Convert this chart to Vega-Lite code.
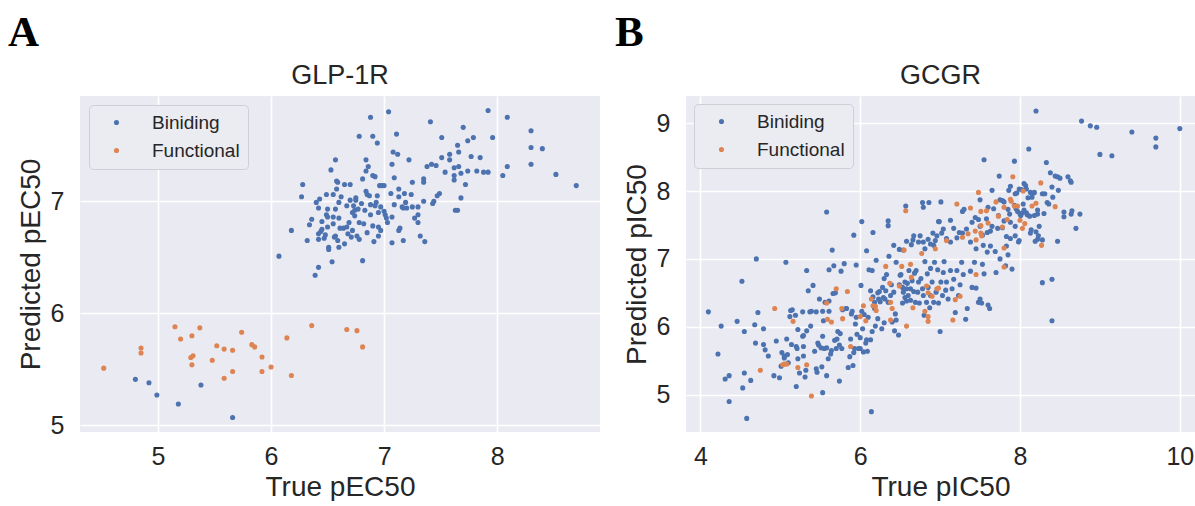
{
"$schema": "https://vega.github.io/schema/vega-lite/v6.json",
"background": "white",
"padding": {"left": 8, "top": 12, "right": 0, "bottom": 0},
"autosize": {"type": "pad"},
"datasets": {
"a": [
{"x":4.80,"y":5.41,"s":"Biniding"},{"x":4.92,"y":5.38,"s":"Biniding"},{"x":4.99,"y":5.27,"s":"Biniding"},{"x":5.18,"y":5.19,"s":"Biniding"},{"x":5.38,"y":5.36,"s":"Biniding"},{"x":5.66,"y":5.07,"s":"Biniding"},
{"x":6.07,"y":6.51,"s":"Biniding"},{"x":6.18,"y":6.74,"s":"Biniding"},{"x":6.27,"y":7.04,"s":"Biniding"},{"x":6.28,"y":7.15,"s":"Biniding"},{"x":6.32,"y":6.65,"s":"Biniding"},{"x":6.34,"y":6.79,"s":"Biniding"},{"x":6.36,"y":6.84,"s":"Biniding"},{"x":6.39,"y":6.34,"s":"Biniding"},{"x":6.42,"y":6.41,"s":"Biniding"},{"x":6.40,"y":6.99,"s":"Biniding"},{"x":6.43,"y":7.02,"s":"Biniding"},{"x":6.42,"y":6.94,"s":"Biniding"},{"x":6.42,"y":6.71,"s":"Biniding"},{"x":6.44,"y":6.73,"s":"Biniding"},{"x":6.45,"y":6.82,"s":"Biniding"},{"x":6.42,"y":6.66,"s":"Biniding"},{"x":6.45,"y":6.75,"s":"Biniding"},{"x":6.47,"y":6.67,"s":"Biniding"},{"x":6.48,"y":6.70,"s":"Biniding"},{"x":6.49,"y":7.06,"s":"Biniding"},{"x":6.49,"y":6.88,"s":"Biniding"},{"x":6.50,"y":6.86,"s":"Biniding"},{"x":6.50,"y":6.93,"s":"Biniding"},{"x":6.51,"y":6.59,"s":"Biniding"},{"x":6.51,"y":6.57,"s":"Biniding"},{"x":6.50,"y":6.77,"s":"Biniding"},{"x":6.53,"y":7.28,"s":"Biniding"},{"x":6.54,"y":6.46,"s":"Biniding"},{"x":6.55,"y":7.06,"s":"Biniding"},{"x":6.55,"y":6.86,"s":"Biniding"},{"x":6.56,"y":6.68,"s":"Biniding"},{"x":6.57,"y":6.69,"s":"Biniding"},{"x":6.57,"y":7.37,"s":"Biniding"},{"x":6.57,"y":6.93,"s":"Biniding"},{"x":6.58,"y":7.11,"s":"Biniding"},{"x":6.58,"y":7.18,"s":"Biniding"},{"x":6.59,"y":7.17,"s":"Biniding"},{"x":6.59,"y":6.65,"s":"Biniding"},{"x":6.60,"y":6.99,"s":"Biniding"},{"x":6.60,"y":6.59,"s":"Biniding"},{"x":6.61,"y":6.76,"s":"Biniding"},{"x":6.64,"y":6.76,"s":"Biniding"},{"x":6.65,"y":7.15,"s":"Biniding"},{"x":6.67,"y":6.77,"s":"Biniding"},{"x":6.67,"y":6.96,"s":"Biniding"},{"x":6.68,"y":6.71,"s":"Biniding"},{"x":6.69,"y":6.81,"s":"Biniding"},{"x":6.70,"y":7.15,"s":"Biniding"},{"x":6.70,"y":7.01,"s":"Biniding"},{"x":6.71,"y":6.68,"s":"Biniding"},{"x":6.72,"y":6.74,"s":"Biniding"},{"x":6.73,"y":6.96,"s":"Biniding"},{"x":6.74,"y":6.92,"s":"Biniding"},{"x":6.74,"y":6.87,"s":"Biniding"},{"x":6.75,"y":7.03,"s":"Biniding"},{"x":6.75,"y":7.01,"s":"Biniding"},{"x":6.76,"y":6.69,"s":"Biniding"},{"x":6.77,"y":6.93,"s":"Biniding"},{"x":6.78,"y":7.58,"s":"Biniding"},{"x":6.78,"y":6.81,"s":"Biniding"},{"x":6.81,"y":6.47,"s":"Biniding"},{"x":6.81,"y":7.20,"s":"Biniding"},{"x":6.82,"y":6.80,"s":"Biniding"},{"x":6.83,"y":6.92,"s":"Biniding"},{"x":6.84,"y":7.09,"s":"Biniding"},{"x":6.84,"y":7.27,"s":"Biniding"},{"x":6.84,"y":7.37,"s":"Biniding"},{"x":6.85,"y":7.06,"s":"Biniding"},{"x":6.85,"y":6.72,"s":"Biniding"},{"x":6.86,"y":7.31,"s":"Biniding"},{"x":6.87,"y":7.05,"s":"Biniding"},{"x":6.88,"y":7.75,"s":"Biniding"},{"x":6.88,"y":6.97,"s":"Biniding"},{"x":6.88,"y":6.88,"s":"Biniding"},{"x":6.90,"y":7.58,"s":"Biniding"},{"x":6.90,"y":7.23,"s":"Biniding"},{"x":6.90,"y":6.78,"s":"Biniding"},{"x":6.91,"y":6.64,"s":"Biniding"},{"x":6.92,"y":7.22,"s":"Biniding"},{"x":6.92,"y":6.96,"s":"Biniding"},{"x":6.93,"y":6.99,"s":"Biniding"},{"x":6.94,"y":7.52,"s":"Biniding"},{"x":6.94,"y":7.05,"s":"Biniding"},{"x":6.95,"y":6.69,"s":"Biniding"},{"x":6.95,"y":6.77,"s":"Biniding"},{"x":6.96,"y":7.14,"s":"Biniding"},{"x":6.97,"y":6.95,"s":"Biniding"},{"x":6.97,"y":6.74,"s":"Biniding"},{"x":6.98,"y":7.14,"s":"Biniding"},{"x":7.00,"y":7.14,"s":"Biniding"},{"x":7.00,"y":6.91,"s":"Biniding"},{"x":7.01,"y":6.88,"s":"Biniding"},{"x":7.02,"y":6.85,"s":"Biniding"},{"x":7.03,"y":6.81,"s":"Biniding"},{"x":7.04,"y":7.80,"s":"Biniding"},{"x":7.06,"y":7.07,"s":"Biniding"},{"x":7.07,"y":6.63,"s":"Biniding"},{"x":7.07,"y":6.86,"s":"Biniding"},{"x":7.07,"y":7.33,"s":"Biniding"},{"x":7.08,"y":7.44,"s":"Biniding"},{"x":7.09,"y":6.97,"s":"Biniding"},{"x":7.09,"y":7.21,"s":"Biniding"},{"x":7.11,"y":7.60,"s":"Biniding"},{"x":7.12,"y":7.42,"s":"Biniding"},{"x":7.13,"y":7.04,"s":"Biniding"},{"x":7.13,"y":7.11,"s":"Biniding"},{"x":7.13,"y":6.74,"s":"Biniding"},{"x":7.14,"y":6.76,"s":"Biniding"},{"x":7.16,"y":6.95,"s":"Biniding"},{"x":7.17,"y":6.94,"s":"Biniding"},{"x":7.17,"y":6.65,"s":"Biniding"},{"x":7.18,"y":7.07,"s":"Biniding"},{"x":7.19,"y":6.99,"s":"Biniding"},{"x":7.20,"y":6.94,"s":"Biniding"},{"x":7.22,"y":7.37,"s":"Biniding"},{"x":7.24,"y":7.06,"s":"Biniding"},{"x":7.25,"y":7.17,"s":"Biniding"},{"x":7.25,"y":6.95,"s":"Biniding"},{"x":7.27,"y":6.85,"s":"Biniding"},{"x":7.30,"y":6.95,"s":"Biniding"},{"x":7.30,"y":6.88,"s":"Biniding"},{"x":7.30,"y":6.81,"s":"Biniding"},{"x":7.32,"y":6.69,"s":"Biniding"},{"x":7.35,"y":7.20,"s":"Biniding"},{"x":7.35,"y":7.17,"s":"Biniding"},{"x":7.35,"y":7.00,"s":"Biniding"},{"x":7.36,"y":6.64,"s":"Biniding"},{"x":7.38,"y":7.31,"s":"Biniding"},{"x":7.41,"y":7.71,"s":"Biniding"},{"x":7.42,"y":7.33,"s":"Biniding"},{"x":7.43,"y":6.98,"s":"Biniding"},{"x":7.44,"y":7.00,"s":"Biniding"},{"x":7.46,"y":7.32,"s":"Biniding"},{"x":7.47,"y":7.05,"s":"Biniding"},{"x":7.49,"y":7.07,"s":"Biniding"},{"x":7.51,"y":7.57,"s":"Biniding"},{"x":7.51,"y":7.39,"s":"Biniding"},{"x":7.54,"y":7.26,"s":"Biniding"},{"x":7.58,"y":7.42,"s":"Biniding"},{"x":7.58,"y":7.37,"s":"Biniding"},{"x":7.62,"y":7.30,"s":"Biniding"},{"x":7.62,"y":7.23,"s":"Biniding"},{"x":7.62,"y":7.19,"s":"Biniding"},{"x":7.63,"y":6.92,"s":"Biniding"},{"x":7.65,"y":6.92,"s":"Biniding"},{"x":7.65,"y":7.50,"s":"Biniding"},{"x":7.66,"y":7.44,"s":"Biniding"},{"x":7.66,"y":7.31,"s":"Biniding"},{"x":7.68,"y":7.25,"s":"Biniding"},{"x":7.68,"y":7.03,"s":"Biniding"},{"x":7.70,"y":7.66,"s":"Biniding"},{"x":7.72,"y":7.15,"s":"Biniding"},{"x":7.74,"y":7.54,"s":"Biniding"},{"x":7.74,"y":7.27,"s":"Biniding"},{"x":7.77,"y":7.40,"s":"Biniding"},{"x":7.79,"y":7.57,"s":"Biniding"},{"x":7.82,"y":7.27,"s":"Biniding"},{"x":7.85,"y":7.39,"s":"Biniding"},{"x":7.88,"y":7.26,"s":"Biniding"},{"x":7.92,"y":7.81,"s":"Biniding"},{"x":7.92,"y":7.26,"s":"Biniding"},{"x":7.96,"y":7.57,"s":"Biniding"},{"x":8.05,"y":7.23,"s":"Biniding"},{"x":8.09,"y":7.75,"s":"Biniding"},{"x":8.09,"y":7.31,"s":"Biniding"},{"x":8.30,"y":7.63,"s":"Biniding"},{"x":8.30,"y":7.48,"s":"Biniding"},{"x":8.30,"y":7.33,"s":"Biniding"},{"x":8.40,"y":7.47,"s":"Biniding"},{"x":8.52,"y":7.24,"s":"Biniding"},{"x":8.70,"y":7.14,"s":"Biniding"},
{"x":6.60,"y":6.85,"s":"Biniding"},{"x":6.72,"y":6.90,"s":"Biniding"},{"x":6.80,"y":6.98,"s":"Biniding"},{"x":6.65,"y":6.62,"s":"Biniding"},{"x":6.55,"y":6.80,"s":"Biniding"},{"x":6.95,"y":6.90,"s":"Biniding"},{"x":6.62,"y":7.04,"s":"Biniding"},{"x":6.78,"y":6.66,"s":"Biniding"},
{"x":4.52,"y":5.51,"s":"Functional"},{"x":4.85,"y":5.69,"s":"Functional"},{"x":4.85,"y":5.645,"s":"Functional"},{"x":5.15,"y":5.88,"s":"Functional"},{"x":5.20,"y":5.77,"s":"Functional"},{"x":5.30,"y":5.80,"s":"Functional"},{"x":5.37,"y":5.87,"s":"Functional"},{"x":5.29,"y":5.605,"s":"Functional"},{"x":5.31,"y":5.62,"s":"Functional"},{"x":5.30,"y":5.54,"s":"Functional"},{"x":5.48,"y":5.58,"s":"Functional"},{"x":5.52,"y":5.71,"s":"Functional"},{"x":5.585,"y":5.68,"s":"Functional"},{"x":5.66,"y":5.67,"s":"Functional"},{"x":5.585,"y":5.42,"s":"Functional"},{"x":5.66,"y":5.48,"s":"Functional"},{"x":5.74,"y":5.83,"s":"Functional"},{"x":5.83,"y":5.72,"s":"Functional"},{"x":5.855,"y":5.70,"s":"Functional"},{"x":5.92,"y":5.61,"s":"Functional"},{"x":5.92,"y":5.48,"s":"Functional"},{"x":6.00,"y":5.52,"s":"Functional"},{"x":6.14,"y":5.78,"s":"Functional"},{"x":6.18,"y":5.445,"s":"Functional"},{"x":6.36,"y":5.89,"s":"Functional"},{"x":6.67,"y":5.855,"s":"Functional"},{"x":6.76,"y":5.845,"s":"Functional"},{"x":6.81,"y":5.70,"s":"Functional"}
],
"b": [
{"x":4.10,"y":6.22,"s":"Biniding"},{"x":4.26,"y":6.01,"s":"Biniding"},{"x":4.22,"y":5.60,"s":"Biniding"},{"x":4.31,"y":5.23,"s":"Biniding"},{"x":4.36,"y":5.28,"s":"Biniding"},{"x":4.36,"y":4.90,"s":"Biniding"},{"x":4.52,"y":6.67,"s":"Biniding"},{"x":4.46,"y":6.08,"s":"Biniding"},{"x":4.55,"y":5.93,"s":"Biniding"},{"x":4.55,"y":5.32,"s":"Biniding"},{"x":4.53,"y":5.10,"s":"Biniding"},{"x":4.58,"y":4.65,"s":"Biniding"},{"x":4.63,"y":5.21,"s":"Biniding"},{"x":4.68,"y":6.03,"s":"Biniding"},{"x":4.70,"y":7.00,"s":"Biniding"},{"x":4.72,"y":6.21,"s":"Biniding"},{"x":4.79,"y":5.97,"s":"Biniding"},{"x":4.69,"y":5.76,"s":"Biniding"},{"x":4.79,"y":5.74,"s":"Biniding"},{"x":4.81,"y":5.66,"s":"Biniding"},{"x":4.85,"y":5.57,"s":"Biniding"},{"x":4.92,"y":5.28,"s":"Biniding"},{"x":4.95,"y":5.79,"s":"Biniding"},{"x":4.99,"y":5.25,"s":"Biniding"},{"x":5.01,"y":5.42,"s":"Biniding"},{"x":5.02,"y":5.62,"s":"Biniding"},{"x":5.05,"y":5.54,"s":"Biniding"},{"x":5.07,"y":6.95,"s":"Biniding"},{"x":5.08,"y":5.82,"s":"Biniding"},{"x":5.05,"y":5.57,"s":"Biniding"},{"x":5.09,"y":5.59,"s":"Biniding"},{"x":5.10,"y":5.47,"s":"Biniding"},{"x":5.12,"y":6.15,"s":"Biniding"},{"x":5.13,"y":6.24,"s":"Biniding"},{"x":5.15,"y":6.25,"s":"Biniding"},{"x":5.14,"y":5.74,"s":"Biniding"},{"x":5.19,"y":6.17,"s":"Biniding"},{"x":5.20,"y":5.12,"s":"Biniding"},{"x":5.20,"y":5.71,"s":"Biniding"},{"x":5.21,"y":5.68,"s":"Biniding"},{"x":5.22,"y":5.96,"s":"Biniding"},{"x":5.22,"y":5.53,"s":"Biniding"},{"x":5.24,"y":5.32,"s":"Biniding"},{"x":5.28,"y":6.22,"s":"Biniding"},{"x":5.28,"y":5.86,"s":"Biniding"},{"x":5.29,"y":5.87,"s":"Biniding"},{"x":5.29,"y":5.71,"s":"Biniding"},{"x":5.29,"y":5.57,"s":"Biniding"},{"x":5.31,"y":5.26,"s":"Biniding"},{"x":5.32,"y":5.36,"s":"Biniding"},{"x":5.33,"y":6.83,"s":"Biniding"},{"x":5.33,"y":5.94,"s":"Biniding"},{"x":5.35,"y":6.53,"s":"Biniding"},{"x":5.37,"y":6.22,"s":"Biniding"},{"x":5.38,"y":6.01,"s":"Biniding"},{"x":5.39,"y":6.23,"s":"Biniding"},{"x":5.41,"y":6.61,"s":"Biniding"},{"x":5.43,"y":5.64,"s":"Biniding"},{"x":5.45,"y":6.22,"s":"Biniding"},{"x":5.45,"y":5.38,"s":"Biniding"},{"x":5.46,"y":5.33,"s":"Biniding"},{"x":5.47,"y":5.76,"s":"Biniding"},{"x":5.48,"y":5.73,"s":"Biniding"},{"x":5.49,"y":6.41,"s":"Biniding"},{"x":5.51,"y":5.69,"s":"Biniding"},{"x":5.52,"y":5.41,"s":"Biniding"},{"x":5.53,"y":5.86,"s":"Biniding"},{"x":5.53,"y":5.03,"s":"Biniding"},{"x":5.53,"y":6.23,"s":"Biniding"},{"x":5.54,"y":6.09,"s":"Biniding"},{"x":5.55,"y":5.68,"s":"Biniding"},{"x":5.56,"y":6.36,"s":"Biniding"},{"x":5.58,"y":5.69,"s":"Biniding"},{"x":5.58,"y":5.28,"s":"Biniding"},{"x":5.60,"y":5.53,"s":"Biniding"},{"x":5.61,"y":6.23,"s":"Biniding"},{"x":5.61,"y":6.84,"s":"Biniding"},{"x":5.61,"y":6.38,"s":"Biniding"},{"x":5.63,"y":5.60,"s":"Biniding"},{"x":5.64,"y":5.65,"s":"Biniding"},{"x":5.66,"y":6.49,"s":"Biniding"},{"x":5.67,"y":6.90,"s":"Biniding"},{"x":5.68,"y":5.80,"s":"Biniding"},{"x":5.69,"y":6.50,"s":"Biniding"},{"x":5.70,"y":5.68,"s":"Biniding"},{"x":5.71,"y":5.82,"s":"Biniding"},{"x":5.72,"y":5.93,"s":"Biniding"},{"x":5.74,"y":5.20,"s":"Biniding"},{"x":5.74,"y":5.73,"s":"Biniding"},{"x":5.76,"y":6.82,"s":"Biniding"},{"x":5.75,"y":5.90,"s":"Biniding"},{"x":5.77,"y":5.68,"s":"Biniding"},{"x":5.78,"y":6.25,"s":"Biniding"},{"x":5.80,"y":6.93,"s":"Biniding"},{"x":5.82,"y":6.27,"s":"Biniding"},{"x":5.83,"y":6.27,"s":"Biniding"},{"x":5.85,"y":5.40,"s":"Biniding"},{"x":5.87,"y":5.56,"s":"Biniding"},{"x":5.88,"y":5.82,"s":"Biniding"},{"x":5.89,"y":6.19,"s":"Biniding"},{"x":5.90,"y":6.23,"s":"Biniding"},{"x":5.91,"y":5.43,"s":"Biniding"},{"x":5.92,"y":5.62,"s":"Biniding"},{"x":5.93,"y":5.68,"s":"Biniding"},{"x":5.94,"y":6.04,"s":"Biniding"},{"x":5.95,"y":6.14,"s":"Biniding"},{"x":5.95,"y":6.91,"s":"Biniding"},{"x":5.96,"y":5.89,"s":"Biniding"},{"x":5.98,"y":5.68,"s":"Biniding"},{"x":6.00,"y":5.84,"s":"Biniding"},{"x":6.00,"y":5.68,"s":"Biniding"},{"x":6.01,"y":6.61,"s":"Biniding"},{"x":6.02,"y":6.23,"s":"Biniding"},{"x":6.03,"y":5.97,"s":"Biniding"},{"x":6.04,"y":5.63,"s":"Biniding"},{"x":6.05,"y":6.18,"s":"Biniding"},{"x":6.07,"y":5.76,"s":"Biniding"},{"x":6.08,"y":5.81,"s":"Biniding"},{"x":6.08,"y":7.12,"s":"Biniding"},{"x":6.09,"y":5.64,"s":"Biniding"},{"x":6.10,"y":6.14,"s":"Biniding"},{"x":6.11,"y":6.84,"s":"Biniding"},{"x":6.13,"y":6.53,"s":"Biniding"},{"x":6.13,"y":5.81,"s":"Biniding"},{"x":6.14,"y":4.75,"s":"Biniding"},{"x":6.15,"y":6.83,"s":"Biniding"},{"x":6.15,"y":5.93,"s":"Biniding"},{"x":6.16,"y":6.44,"s":"Biniding"},{"x":6.18,"y":6.36,"s":"Biniding"},{"x":6.18,"y":6.27,"s":"Biniding"},{"x":6.19,"y":6.01,"s":"Biniding"},{"x":6.20,"y":6.98,"s":"Biniding"},{"x":6.22,"y":6.12,"s":"Biniding"},{"x":6.22,"y":6.50,"s":"Biniding"},{"x":6.23,"y":6.41,"s":"Biniding"},{"x":6.24,"y":6.52,"s":"Biniding"},{"x":6.25,"y":6.37,"s":"Biniding"},{"x":6.27,"y":5.97,"s":"Biniding"},{"x":6.28,"y":6.58,"s":"Biniding"},{"x":6.29,"y":6.43,"s":"Biniding"},{"x":6.30,"y":6.06,"s":"Biniding"},{"x":6.30,"y":6.71,"s":"Biniding"},{"x":6.31,"y":6.41,"s":"Biniding"},{"x":6.32,"y":6.53,"s":"Biniding"},{"x":6.33,"y":6.77,"s":"Biniding"},{"x":6.35,"y":6.36,"s":"Biniding"},{"x":6.36,"y":7.04,"s":"Biniding"},{"x":6.38,"y":6.46,"s":"Biniding"},{"x":6.39,"y":6.62,"s":"Biniding"},{"x":6.40,"y":6.07,"s":"Biniding"},{"x":6.42,"y":6.51,"s":"Biniding"},{"x":6.43,"y":5.94,"s":"Biniding"},{"x":6.44,"y":6.19,"s":"Biniding"},{"x":6.45,"y":6.95,"s":"Biniding"},{"x":6.45,"y":6.10,"s":"Biniding"},{"x":6.48,"y":5.88,"s":"Biniding"},{"x":6.49,"y":6.62,"s":"Biniding"},{"x":6.50,"y":6.76,"s":"Biniding"},{"x":6.51,"y":6.77,"s":"Biniding"},{"x":6.53,"y":6.35,"s":"Biniding"},{"x":6.53,"y":6.58,"s":"Biniding"},{"x":6.54,"y":6.51,"s":"Biniding"},{"x":6.56,"y":6.66,"s":"Biniding"},{"x":6.56,"y":6.43,"s":"Biniding"},{"x":6.58,"y":6.56,"s":"Biniding"},{"x":6.58,"y":6.38,"s":"Biniding"},{"x":6.59,"y":6.64,"s":"Biniding"},{"x":6.60,"y":6.46,"s":"Biniding"},{"x":6.61,"y":6.83,"s":"Biniding"},{"x":6.63,"y":6.56,"s":"Biniding"},{"x":6.63,"y":6.39,"s":"Biniding"},{"x":6.65,"y":6.68,"s":"Biniding"},{"x":6.67,"y":6.52,"s":"Biniding"},{"x":6.68,"y":6.79,"s":"Biniding"},{"x":6.69,"y":6.36,"s":"Biniding"},{"x":6.70,"y":6.83,"s":"Biniding"},{"x":6.72,"y":6.51,"s":"Biniding"},{"x":6.73,"y":6.66,"s":"Biniding"},{"x":6.74,"y":6.35,"s":"Biniding"},{"x":6.76,"y":6.71,"s":"Biniding"},{"x":6.78,"y":6.56,"s":"Biniding"},{"x":6.79,"y":6.46,"s":"Biniding"},{"x":6.80,"y":6.17,"s":"Biniding"},{"x":6.81,"y":6.96,"s":"Biniding"},{"x":6.83,"y":6.36,"s":"Biniding"},{"x":6.84,"y":6.78,"s":"Biniding"},{"x":6.85,"y":6.58,"s":"Biniding"},{"x":6.87,"y":6.28,"s":"Biniding"},{"x":6.88,"y":6.46,"s":"Biniding"},{"x":6.88,"y":6.86,"s":"Biniding"},{"x":6.90,"y":6.66,"s":"Biniding"},{"x":6.92,"y":6.36,"s":"Biniding"},{"x":6.93,"y":6.95,"s":"Biniding"},{"x":6.95,"y":6.51,"s":"Biniding"},{"x":6.97,"y":6.84,"s":"Biniding"},{"x":6.98,"y":6.35,"s":"Biniding"},{"x":7.00,"y":5.93,"s":"Biniding"},{"x":7.01,"y":6.66,"s":"Biniding"},{"x":7.03,"y":6.46,"s":"Biniding"},{"x":7.04,"y":6.80,"s":"Biniding"},{"x":7.05,"y":6.96,"s":"Biniding"},{"x":7.07,"y":6.54,"s":"Biniding"},{"x":7.08,"y":6.66,"s":"Biniding"},{"x":7.10,"y":6.41,"s":"Biniding"},{"x":7.13,"y":6.83,"s":"Biniding"},{"x":7.15,"y":6.56,"s":"Biniding"},{"x":7.17,"y":6.70,"s":"Biniding"},{"x":7.19,"y":6.21,"s":"Biniding"},{"x":7.21,"y":6.83,"s":"Biniding"},{"x":7.23,"y":6.46,"s":"Biniding"},{"x":7.25,"y":6.62,"s":"Biniding"},{"x":7.27,"y":6.95,"s":"Biniding"},{"x":7.29,"y":6.77,"s":"Biniding"},{"x":7.32,"y":6.11,"s":"Biniding"},{"x":7.34,"y":6.27,"s":"Biniding"},{"x":7.38,"y":6.82,"s":"Biniding"},{"x":7.40,"y":6.58,"s":"Biniding"},{"x":7.43,"y":6.95,"s":"Biniding"},{"x":7.45,"y":6.57,"s":"Biniding"},{"x":7.48,"y":6.36,"s":"Biniding"},{"x":7.50,"y":6.41,"s":"Biniding"},{"x":7.53,"y":6.92,"s":"Biniding"},{"x":7.55,"y":6.78,"s":"Biniding"},
{"x":5.58,"y":7.69,"s":"Biniding"},{"x":6.02,"y":7.55,"s":"Biniding"},{"x":5.92,"y":7.35,"s":"Biniding"},{"x":6.16,"y":7.39,"s":"Biniding"},{"x":6.35,"y":7.56,"s":"Biniding"},{"x":6.35,"y":7.49,"s":"Biniding"},{"x":5.65,"y":7.13,"s":"Biniding"},{"x":6.57,"y":7.78,"s":"Biniding"},{"x":6.78,"y":7.83,"s":"Biniding"},{"x":6.79,"y":7.76,"s":"Biniding"},{"x":6.86,"y":7.83,"s":"Biniding"},{"x":6.98,"y":7.55,"s":"Biniding"},{"x":6.58,"y":7.26,"s":"Biniding"},{"x":6.66,"y":7.28,"s":"Biniding"},{"x":6.75,"y":7.34,"s":"Biniding"},{"x":6.79,"y":7.25,"s":"Biniding"},{"x":6.85,"y":7.29,"s":"Biniding"},{"x":6.91,"y":7.38,"s":"Biniding"},{"x":6.94,"y":7.27,"s":"Biniding"},{"x":6.64,"y":7.21,"s":"Biniding"},{"x":6.49,"y":7.14,"s":"Biniding"},{"x":6.54,"y":7.13,"s":"Biniding"},{"x":6.42,"y":7.20,"s":"Biniding"},
{"x":8.20,"y":9.18,"s":"Biniding"},{"x":8.77,"y":9.03,"s":"Biniding"},{"x":8.88,"y":8.96,"s":"Biniding"},{"x":8.96,"y":8.94,"s":"Biniding"},{"x":9.40,"y":8.87,"s":"Biniding"},{"x":9.70,"y":8.78,"s":"Biniding"},{"x":9.70,"y":8.65,"s":"Biniding"},{"x":10.0,"y":8.92,"s":"Biniding"},{"x":9.00,"y":8.54,"s":"Biniding"},{"x":9.15,"y":8.52,"s":"Biniding"},{"x":8.11,"y":8.62,"s":"Biniding"},{"x":7.55,"y":8.46,"s":"Biniding"},{"x":7.93,"y":8.44,"s":"Biniding"},{"x":8.33,"y":8.42,"s":"Biniding"},{"x":7.74,"y":8.22,"s":"Biniding"},{"x":8.38,"y":8.27,"s":"Biniding"},{"x":8.44,"y":8.22,"s":"Biniding"},{"x":8.47,"y":8.21,"s":"Biniding"},{"x":8.50,"y":8.19,"s":"Biniding"},{"x":8.60,"y":8.21,"s":"Biniding"},{"x":8.63,"y":8.15,"s":"Biniding"},{"x":8.64,"y":8.13,"s":"Biniding"},{"x":7.65,"y":8.01,"s":"Biniding"},{"x":7.86,"y":8.01,"s":"Biniding"},{"x":7.88,"y":8.07,"s":"Biniding"},{"x":7.94,"y":7.96,"s":"Biniding"},{"x":7.96,"y":7.97,"s":"Biniding"},{"x":7.99,"y":8.03,"s":"Biniding"},{"x":8.02,"y":8.02,"s":"Biniding"},{"x":8.05,"y":8.11,"s":"Biniding"},{"x":8.07,"y":8.08,"s":"Biniding"},{"x":8.08,"y":8.03,"s":"Biniding"},{"x":8.13,"y":7.98,"s":"Biniding"},{"x":8.17,"y":7.97,"s":"Biniding"},{"x":8.18,"y":7.98,"s":"Biniding"},{"x":8.28,"y":7.96,"s":"Biniding"},{"x":8.31,"y":7.96,"s":"Biniding"},{"x":8.40,"y":8.06,"s":"Biniding"},{"x":8.48,"y":8.01,"s":"Biniding"},{"x":8.41,"y":7.91,"s":"Biniding"},{"x":8.15,"y":7.91,"s":"Biniding"},{"x":8.10,"y":7.90,"s":"Biniding"},{"x":7.01,"y":7.84,"s":"Biniding"},{"x":7.28,"y":7.70,"s":"Biniding"},{"x":7.30,"y":7.73,"s":"Biniding"},{"x":7.50,"y":7.87,"s":"Biniding"},{"x":7.75,"y":7.87,"s":"Biniding"},{"x":7.78,"y":7.86,"s":"Biniding"},{"x":7.80,"y":7.84,"s":"Biniding"},{"x":7.85,"y":7.73,"s":"Biniding"},{"x":7.87,"y":7.66,"s":"Biniding"},{"x":7.93,"y":7.79,"s":"Biniding"},{"x":7.95,"y":7.74,"s":"Biniding"},{"x":7.97,"y":7.70,"s":"Biniding"},{"x":8.00,"y":7.66,"s":"Biniding"},{"x":8.04,"y":7.81,"s":"Biniding"},{"x":8.05,"y":7.72,"s":"Biniding"},{"x":8.09,"y":7.65,"s":"Biniding"},{"x":8.12,"y":7.63,"s":"Biniding"},{"x":8.22,"y":7.66,"s":"Biniding"},{"x":8.22,"y":7.72,"s":"Biniding"},{"x":8.18,"y":7.64,"s":"Biniding"},{"x":8.30,"y":7.67,"s":"Biniding"},{"x":8.34,"y":7.83,"s":"Biniding"},{"x":8.36,"y":7.81,"s":"Biniding"},{"x":8.55,"y":7.69,"s":"Biniding"},{"x":8.55,"y":7.62,"s":"Biniding"},{"x":8.64,"y":7.66,"s":"Biniding"},{"x":8.65,"y":7.71,"s":"Biniding"},{"x":8.75,"y":7.66,"s":"Biniding"},{"x":8.70,"y":7.45,"s":"Biniding"},{"x":8.47,"y":7.26,"s":"Biniding"},{"x":8.24,"y":7.48,"s":"Biniding"},{"x":8.20,"y":7.40,"s":"Biniding"},{"x":8.14,"y":7.43,"s":"Biniding"},{"x":8.13,"y":7.38,"s":"Biniding"},{"x":8.19,"y":7.26,"s":"Biniding"},{"x":8.22,"y":7.29,"s":"Biniding"},{"x":8.28,"y":7.28,"s":"Biniding"},{"x":8.23,"y":7.34,"s":"Biniding"},{"x":7.99,"y":7.27,"s":"Biniding"},{"x":7.98,"y":7.25,"s":"Biniding"},{"x":7.94,"y":7.34,"s":"Biniding"},{"x":7.88,"y":7.30,"s":"Biniding"},{"x":7.83,"y":7.19,"s":"Biniding"},{"x":7.85,"y":7.06,"s":"Biniding"},{"x":7.75,"y":7.00,"s":"Biniding"},{"x":7.69,"y":7.11,"s":"Biniding"},{"x":7.63,"y":7.19,"s":"Biniding"},{"x":7.63,"y":7.41,"s":"Biniding"},{"x":7.59,"y":7.39,"s":"Biniding"},{"x":7.53,"y":7.35,"s":"Biniding"},{"x":7.50,"y":7.48,"s":"Biniding"},{"x":7.48,"y":7.58,"s":"Biniding"},{"x":7.58,"y":7.59,"s":"Biniding"},{"x":7.65,"y":7.48,"s":"Biniding"},{"x":7.72,"y":7.45,"s":"Biniding"},{"x":7.78,"y":7.46,"s":"Biniding"},{"x":7.83,"y":7.33,"s":"Biniding"},{"x":8.03,"y":7.68,"s":"Biniding"},{"x":8.08,"y":7.68,"s":"Biniding"},{"x":8.01,"y":7.64,"s":"Biniding"},{"x":7.94,"y":7.48,"s":"Biniding"},{"x":7.88,"y":7.54,"s":"Biniding"},{"x":7.80,"y":7.56,"s":"Biniding"},{"x":7.73,"y":7.64,"s":"Biniding"},{"x":7.67,"y":7.74,"s":"Biniding"},{"x":7.60,"y":7.76,"s":"Biniding"},{"x":7.44,"y":7.61,"s":"Biniding"},{"x":7.40,"y":7.54,"s":"Biniding"},{"x":7.33,"y":7.44,"s":"Biniding"},{"x":7.28,"y":7.38,"s":"Biniding"},{"x":7.21,"y":7.31,"s":"Biniding"},{"x":7.13,"y":7.25,"s":"Biniding"},{"x":7.08,"y":7.30,"s":"Biniding"},{"x":7.04,"y":7.44,"s":"Biniding"},{"x":6.99,"y":7.55,"s":"Biniding"},{"x":7.13,"y":7.57,"s":"Biniding"},{"x":6.92,"y":7.20,"s":"Biniding"},{"x":6.96,"y":7.34,"s":"Biniding"},{"x":7.02,"y":7.38,"s":"Biniding"},{"x":7.17,"y":7.45,"s":"Biniding"},{"x":7.24,"y":7.39,"s":"Biniding"},{"x":7.38,"y":7.25,"s":"Biniding"},{"x":7.45,"y":7.15,"s":"Biniding"},{"x":7.54,"y":7.20,"s":"Biniding"},{"x":7.59,"y":7.10,"s":"Biniding"},{"x":6.67,"y":7.34,"s":"Biniding"},{"x":6.73,"y":7.25,"s":"Biniding"},{"x":6.81,"y":7.15,"s":"Biniding"},{"x":6.88,"y":7.22,"s":"Biniding"},{"x":8.28,"y":6.65,"s":"Biniding"},{"x":8.40,"y":6.70,"s":"Biniding"},{"x":8.40,"y":6.09,"s":"Biniding"},{"x":7.60,"y":6.32,"s":"Biniding"},{"x":7.62,"y":6.27,"s":"Biniding"},{"x":7.52,"y":6.35,"s":"Biniding"},{"x":7.90,"y":6.85,"s":"Biniding"},{"x":7.82,"y":6.90,"s":"Biniding"},{"x":7.70,"y":6.80,"s":"Biniding"},
{"x":4.75,"y":5.36,"s":"Functional"},{"x":4.93,"y":6.27,"s":"Functional"},{"x":5.03,"y":5.44,"s":"Functional"},{"x":5.05,"y":5.45,"s":"Functional"},{"x":5.08,"y":5.45,"s":"Functional"},{"x":5.16,"y":6.08,"s":"Functional"},{"x":5.22,"y":5.40,"s":"Functional"},{"x":5.33,"y":5.44,"s":"Functional"},{"x":5.39,"y":4.98,"s":"Functional"},{"x":5.58,"y":6.35,"s":"Functional"},{"x":5.59,"y":6.11,"s":"Functional"},{"x":5.64,"y":6.07,"s":"Functional"},{"x":5.70,"y":6.56,"s":"Functional"},{"x":5.77,"y":6.27,"s":"Functional"},{"x":5.84,"y":6.52,"s":"Functional"},{"x":5.78,"y":6.12,"s":"Functional"},{"x":5.88,"y":5.71,"s":"Functional"},{"x":6.00,"y":6.15,"s":"Functional"},{"x":6.04,"y":6.31,"s":"Functional"},{"x":6.07,"y":6.09,"s":"Functional"},{"x":6.14,"y":6.41,"s":"Functional"},{"x":6.16,"y":6.31,"s":"Functional"},{"x":6.19,"y":6.30,"s":"Functional"},{"x":6.20,"y":6.24,"s":"Functional"},{"x":6.32,"y":6.89,"s":"Functional"},{"x":6.37,"y":6.64,"s":"Functional"},{"x":6.38,"y":6.36,"s":"Functional"},{"x":6.38,"y":6.10,"s":"Functional"},{"x":6.40,"y":6.27,"s":"Functional"},{"x":6.49,"y":6.60,"s":"Functional"},{"x":6.52,"y":6.89,"s":"Functional"},{"x":6.58,"y":6.01,"s":"Functional"},{"x":6.63,"y":6.92,"s":"Functional"},{"x":6.64,"y":6.73,"s":"Functional"},{"x":6.66,"y":6.28,"s":"Functional"},{"x":6.81,"y":6.23,"s":"Functional"},{"x":6.83,"y":6.60,"s":"Functional"},{"x":6.85,"y":6.15,"s":"Functional"},{"x":6.85,"y":6.08,"s":"Functional"},{"x":6.85,"y":6.50,"s":"Functional"},{"x":6.90,"y":6.45,"s":"Functional"},{"x":6.96,"y":6.56,"s":"Functional"},{"x":6.98,"y":6.57,"s":"Functional"},{"x":7.16,"y":6.10,"s":"Functional"},{"x":7.19,"y":6.40,"s":"Functional"},{"x":7.25,"y":6.45,"s":"Functional"},{"x":7.45,"y":6.77,"s":"Functional"},{"x":6.57,"y":7.71,"s":"Functional"},{"x":6.94,"y":7.15,"s":"Functional"},{"x":6.77,"y":7.08,"s":"Functional"},{"x":7.91,"y":8.21,"s":"Functional"},{"x":8.26,"y":8.12,"s":"Functional"},{"x":7.48,"y":7.98,"s":"Functional"},{"x":8.04,"y":8.00,"s":"Functional"},{"x":7.70,"y":7.84,"s":"Functional"},{"x":7.88,"y":7.88,"s":"Functional"},{"x":7.89,"y":7.85,"s":"Functional"},{"x":7.21,"y":7.81,"s":"Functional"},{"x":7.38,"y":7.75,"s":"Functional"},{"x":7.51,"y":7.70,"s":"Functional"},{"x":7.58,"y":7.71,"s":"Functional"},{"x":7.80,"y":7.76,"s":"Functional"},{"x":7.93,"y":7.78,"s":"Functional"},{"x":7.97,"y":7.78,"s":"Functional"},{"x":8.15,"y":7.78,"s":"Functional"},{"x":8.20,"y":7.82,"s":"Functional"},{"x":8.44,"y":7.77,"s":"Functional"},{"x":7.73,"y":7.63,"s":"Functional"},{"x":8.00,"y":7.57,"s":"Functional"},{"x":7.84,"y":7.58,"s":"Functional"},{"x":8.03,"y":7.45,"s":"Functional"},{"x":8.06,"y":7.52,"s":"Functional"},{"x":7.51,"y":7.49,"s":"Functional"},{"x":7.60,"y":7.53,"s":"Functional"},{"x":7.78,"y":7.47,"s":"Functional"},{"x":7.35,"y":7.37,"s":"Functional"},{"x":7.28,"y":7.32,"s":"Functional"},{"x":7.44,"y":7.41,"s":"Functional"},{"x":7.52,"y":7.34,"s":"Functional"},{"x":8.27,"y":7.20,"s":"Functional"},{"x":7.08,"y":7.27,"s":"Functional"},{"x":6.55,"y":7.13,"s":"Functional"},{"x":7.80,"y":7.16,"s":"Functional"},{"x":7.80,"y":6.88,"s":"Functional"},{"x":7.45,"y":7.28,"s":"Functional"},{"x":7.51,"y":7.38,"s":"Functional"}
]
},
"hconcat": [
{
"title": {"text": "A", "anchor": "start", "frame": "group", "dx": -72, "font": "Liberation Serif", "fontSize": 43, "fontWeight": "bold", "color": "black", "offset": 7},
"bounds": "flush",
"resolve": {"legend": {"color": "independent"}},
"vconcat": [
{
"width": 520, "height": 336,
"title": {"text": "GLP-1R", "font": "Liberation Sans", "fontSize": 27, "fontWeight": "normal", "color": "#262626", "offset": 6},
"data": {"name": "a"},
"mark": {"type": "circle", "size": 26, "opacity": 1},
"encoding": {
"x": {"field": "x", "type": "quantitative", "scale": {"domain": [4.31, 8.91], "nice": false, "zero": false}, "axis": {"values": [5,6,7,8], "title": "True pEC50"}},
"y": {"field": "y", "type": "quantitative", "scale": {"domain": [4.94, 7.94], "nice": false, "zero": false}, "axis": {"values": [5,6,7], "title": "Predicted pEC50"}},
"color": {"field": "s", "type": "nominal", "scale": {"domain": ["Biniding","Functional"], "range": ["#4C72B0","#DD8452"]}, "legend": {"title": null, "orient": "top-left", "offset": 9}}
}
}
]
},
{
"title": {"text": "B", "anchor": "start", "frame": "group", "dx": -71, "font": "Liberation Serif", "fontSize": 43, "fontWeight": "bold", "color": "black", "offset": 7},
"bounds": "flush",
"resolve": {"legend": {"color": "independent"}},
"vconcat": [
{
"width": 509, "height": 336,
"title": {"text": "GCGR", "font": "Liberation Sans", "fontSize": 27, "fontWeight": "normal", "color": "#262626", "offset": 6},
"data": {"name": "b"},
"mark": {"type": "circle", "size": 26, "opacity": 1},
"encoding": {
"x": {"field": "x", "type": "quantitative", "scale": {"domain": [3.82, 10.19], "nice": false, "zero": false}, "axis": {"values": [4,6,8,10], "title": "True pIC50"}},
"y": {"field": "y", "type": "quantitative", "scale": {"domain": [4.45, 9.40], "nice": false, "zero": false}, "axis": {"values": [5,6,7,8,9], "title": "Predicted pIC50"}},
"color": {"field": "s", "type": "nominal", "scale": {"domain": ["Biniding","Functional"], "range": ["#4C72B0","#DD8452"]}, "legend": {"title": null, "orient": "top-left", "offset": 8}}
}
}
]
}
],
"spacing": 15,
"resolve": {"scale": {"color": "independent"}, "legend": {"color": "independent"}},
"config": {
"view": {"fill": "#EAEAF2", "stroke": null},
"axis": {"grid": true, "gridColor": "#FFFFFF", "gridWidth": 1.6, "domain": false, "ticks": false, "labelFont": "Liberation Sans", "labelFontSize": 25, "labelColor": "#262626", "titleFont": "Liberation Sans", "titleFontSize": 28, "titleFontWeight": "normal", "titleColor": "#262626"},
"axisX": {"labelPadding": 12, "titlePadding": 4},
"axisY": {"labelPadding": 16, "titlePadding": 5},
"legend": {"labelFont": "Liberation Sans", "labelFontSize": 19, "labelColor": "#262626", "symbolType": "circle", "symbolSize": 26, "symbolStrokeWidth": 0, "fillColor": "#EBEBF2", "strokeColor": "#CFCFD6", "cornerRadius": 4, "padding": 8, "rowPadding": 8, "symbolOffset": 10, "labelOffset": 26}
}
}
